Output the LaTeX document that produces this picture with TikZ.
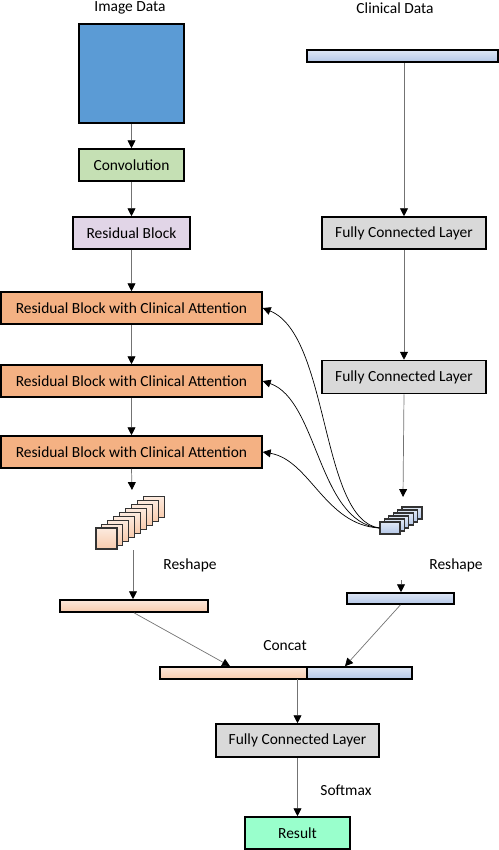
\documentclass[tikz,border=0pt]{standalone}
\usepackage{fontspec}
\setmainfont{Carlito}
\usetikzlibrary{positioning,calc,arrows.meta}
\definecolor{imgblue}{HTML}{5B9BD5}
\definecolor{convgreen}{HTML}{C5E0B4}
\definecolor{resviolet}{HTML}{E1D5E7}
\definecolor{attnorange}{HTML}{F4B183}
\definecolor{fcgray}{HTML}{D9D9D9}
\definecolor{resgreen}{HTML}{99FFCC}
\definecolor{barblue}{HTML}{B4C7E7}
\definecolor{barorange}{HTML}{F8CBAD}

\begin{document}
\begin{tikzpicture}[x=0.02cm, y=-0.02cm,
  every node/.style={font=\fontsize{8.8}{10.5}\selectfont},
  blk/.style={draw=black, line width=0.9pt, inner sep=0pt,
              minimum height=0.64cm, align=center},
  bluebar/.style={draw=black, line width=0.9pt, inner sep=0pt,
              minimum height=0.24cm, top color=barblue!45, bottom color=barblue},
  orangebar/.style={draw=black, line width=0.9pt, inner sep=0pt,
              minimum height=0.24cm, top color=barorange!45, bottom color=barorange},
  lsq/.style={draw=black!80, line width=0.6pt, minimum size=0.42cm, inner sep=0pt,
              top color=barorange!40, bottom color=barorange},
  rsq/.style={draw=black!80, line width=0.6pt, minimum width=0.4cm,
              minimum height=0.24cm, inner sep=0pt,
              top color=barblue!40, bottom color=barblue},
  lbl/.style={inner sep=0pt},
  edge/.style={thin, black!55, -{Triangle[black, width=4.5pt, length=4.5pt]}},
  feed/.style={thin, black, -{Triangle[black, width=4.5pt, length=4.5pt]}},
]
\useasboundingbox (0,0) rectangle (498,850);

% Image branch
\node[lbl] (imglbl) at (130,8) {Image Data};
\node[draw=black, line width=0.9pt, fill=imgblue, minimum width=2.1cm,
      minimum height=1.98cm, inner sep=0pt] (img) at (131.5,73.5) {};
\node[blk, fill=convgreen, minimum width=2.1cm] (conv) at (131.5,165) {Convolution};
\node[blk, fill=resviolet, minimum width=2.34cm] (res) at (131.5,233) {Residual Block};

% Residual blocks with clinical attention
\node[blk, fill=attnorange, minimum width=5.22cm] (rb1) at (131.5,308)
  {Residual Block with Clinical Attention};
\node[blk, fill=attnorange, minimum width=5.22cm] (rb2) at (131.5,381)
  {Residual Block with Clinical Attention};
\node[blk, fill=attnorange, minimum width=5.22cm] (rb3) at (131.5,452)
  {Residual Block with Clinical Attention};

% Image feature maps
\foreach \i in {8,...,0}
  \node[lsq] (ls\i) at ({106.5+5.9*\i},{538.5-3.9*\i}) {};
\coordinate (lstacktop) at (132,490);
\coordinate (lstackout) at (133,550);

% Clinical branch
\node[lbl] (clinlbl) at (395,8) {Clinical Data};
\node[bluebar, minimum width=3.82cm] (clin) at (402.5,56) {};
\node[blk, fill=fcgray, minimum width=3.28cm] (fc1) at (404,233) {Fully Connected Layer};
\node[blk, fill=fcgray, minimum width=3.28cm, minimum height=0.66cm] (fc2) at (404,377)
  {Fully Connected Layer};

% Clinical feature maps
\foreach \i in {5,...,0}
  \node[rsq] (rs\i) at ({390+4.4*\i},{528-3*\i}) {};
\coordinate (rstacktop) at (403,497);
\coordinate (rstackout) at (401,580);

% Reshape
\node[lbl] (reshl) at (190,565) {Reshape};
\node[lbl] (reshr) at (456,565) {Reshape};
\node[orangebar, minimum width=2.96cm] (lbar) at (134,606) {};
\node[bluebar, minimum width=2.14cm, minimum height=0.22cm] (rbar) at (400.5,598.5) {};

% Concat
\node[lbl] (catlbl) at (285,646) {Concat};
\node[orangebar, minimum width=2.94cm] (catl) at (233.5,673) {};
\node[bluebar, minimum width=2.1cm] (catr) at (359.5,673) {};
\coordinate (catout) at (297.5,679);

% Output
\node[blk, fill=fcgray, minimum width=3.26cm, minimum height=0.66cm] (fc3) at (297.5,740.5)
  {Fully Connected Layer};
\node[lbl] (smlbl) at (346,790) {Softmax};
\node[blk, fill=resgreen, minimum width=2.1cm] (result) at (297.5,833) {Result};

% Main spine
\draw[edge] (img) -- (conv);
\draw[edge] (conv) -- (res);
\draw[edge] (res) -- (rb1);
\draw[edge] (rb1) -- (rb2);
\draw[edge] (rb2) -- (rb3);
\draw[edge] (rb3.south) -- (lstacktop);
\draw[edge] (lstackout) -- (lbar.north -| lstackout);

% Clinical spine
\draw[edge] (clin.south -| fc1) -- (fc1);
\draw[edge] (fc1) -- (fc2);
\draw[edge] (fc2.south) -- (rstacktop);
\draw[edge] (rstackout) -- (rbar.north -| rstackout);

% Clinical attention feeds
\draw[feed] (rs0.west) .. controls (320,520) and (330,335) .. (rb1.east);
\draw[feed] (rs0.west) .. controls (318,522) and (318,400) .. (rb2.east);
\draw[feed] (rs0.west) .. controls (325,525) and (310,460) .. (rb3.east);

% Merge
\draw[edge] (lbar.south) -- (catl.north -| 230,0);
\draw[edge] (rbar.south) -- (catr.north -| 345,0);
\draw[edge] (catout) -- (fc3);
\draw[edge] (fc3) -- (result);

\end{tikzpicture}
\end{document}
